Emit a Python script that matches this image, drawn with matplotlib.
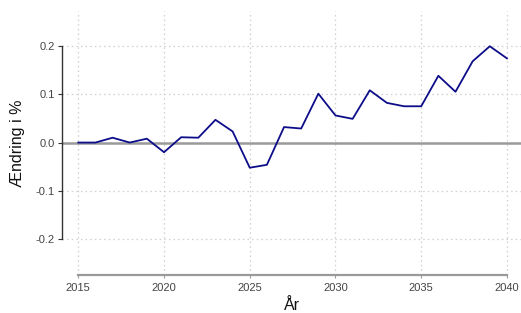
import matplotlib
matplotlib.use("Agg")
import matplotlib.pyplot as plt

years = list(range(2015, 2041))
values = [0.0, 0.0, 0.010, 0.0, 0.008, -0.020, 0.011, 0.010, 0.047, 0.023,
          -0.052, -0.046, 0.032, 0.029, 0.101, 0.056, 0.049, 0.108, 0.082,
          0.075, 0.075, 0.138, 0.105, 0.168, 0.199, 0.174]
xticks = [2015, 2020, 2025, 2030, 2035, 2040]
yticks = [-0.2, -0.1, 0.0, 0.1, 0.2]
ytick_labels = ["-0.2", "-0.1", "0.0", "0.1", "0.2"]

plt.rcParams['font.family'] = ['Liberation Sans', 'DejaVu Sans']

fig = plt.figure(figsize=(5.21, 3.13), dpi=100)
ax = fig.add_axes([0.119, 0.121, 0.881, 0.844])

ax.set_xlim(2014.05, 2040.82)
ax.set_ylim(-0.274, 0.272)

for x in xticks:
    ax.axvline(x, color="#cfcfcf", lw=0.9, ls=(0, (1.2, 2.5)), zorder=0)
for y in yticks:
    ax.axhline(y, color="#cfcfcf", lw=0.9, ls=(0, (1.2, 2.5)), zorder=0)

ax.axhline(0, color="#9a9a9a", lw=1.8, zorder=1)
ax.plot(years, values, color="#0d0d8a", lw=1.3, zorder=2)

for s in ["top", "right"]:
    ax.spines[s].set_visible(False)
ax.spines["left"].set_bounds(-0.2, 0.2)
ax.spines["left"].set_color("#333333")
ax.spines["left"].set_linewidth(1.0)
ax.spines["bottom"].set_bounds(2015, 2040)
ax.spines["bottom"].set_color("#9a9a9a")
ax.spines["bottom"].set_linewidth(1.6)

ax.set_xticks(xticks)
ax.set_xticklabels([str(x) for x in xticks])
ax.set_yticks(yticks)
ax.set_yticklabels(ytick_labels)
ax.tick_params(axis="y", length=3, width=0.8, color="#333333", labelsize=8, labelcolor="#444444", pad=2)
ax.tick_params(axis="x", length=2, width=0.8, color="#9a9a9a", labelsize=8, labelcolor="#444444", pad=3.5)

ax.set_xlabel("År", fontsize=11.5, color="#111111", labelpad=4)
ax.set_ylabel("Ændring i %", fontsize=11.5, color="#111111", labelpad=8)

fig.savefig("out.png", dpi=100)
